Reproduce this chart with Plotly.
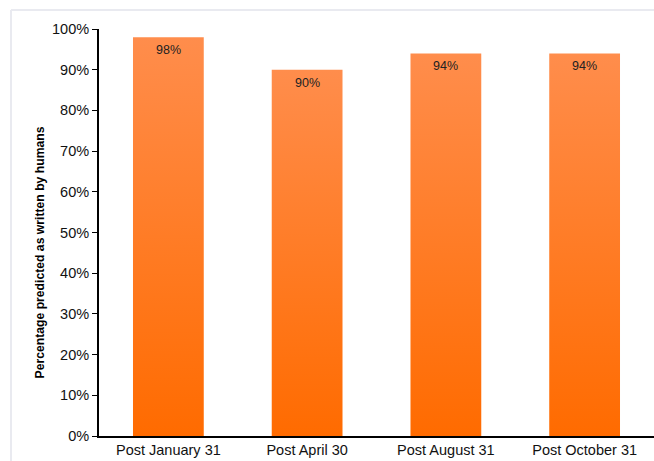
import plotly.graph_objects as go

categories = ["Post January 31", "Post April 30", "Post August 31", "Post October 31"]
values = [0.98, 0.90, 0.94, 0.94]
labels = ["98%", "90%", "94%", "94%"]
y_ticks = [0, 0.1, 0.2, 0.3, 0.4, 0.5, 0.6, 0.7, 0.8, 0.9, 1.0]
y_ticktext = ["0%", "10%", "20%", "30%", "40%", "50%", "60%", "70%", "80%", "90%", "100%"]

BAR_W = 0.51
TOP_C = "#FF8D4C"
BOT_C = "#FF6B00"
FONT = "Liberation Sans, Arial, sans-serif"

fig = go.Figure()
for i, (cat, v) in enumerate(zip(categories, values)):
    x0, x1 = i - BAR_W / 2, i + BAR_W / 2
    fig.add_trace(go.Scatter(
        x=[x0, x1, x1, x0, x0], y=[0, 0, v, v, 0],
        mode="lines", line=dict(width=0), fill="toself",
        fillgradient=dict(type="vertical", colorscale=[[0, BOT_C], [1, TOP_C]]),
        hoverinfo="skip", showlegend=False, name=cat,
    ))
    fig.add_annotation(x=i, y=v, text=labels[i], showarrow=False, yanchor="top",
                       yshift=-4, font=dict(size=12.5, color="#222", family=FONT))

fig.add_annotation(xref="paper", yref="paper", x=-0.107, y=0.45,
                   text="<b>Percentage predicted as written by humans</b>",
                   textangle=-90, showarrow=False, xanchor="center", yanchor="middle",
                   font=dict(size=12.2, color="#000", family=FONT))

frame = "#E9EAF0"
fig.add_shape(type="line", xref="paper", yref="paper", x0=-0.1586, x1=1.0, y0=1.0467, y1=1.0467,
              line=dict(color=frame, width=2))
fig.add_shape(type="line", xref="paper", yref="paper", x0=-0.1586, x1=-0.1586, y0=1.0467, y1=-0.07,
              line=dict(color=frame, width=2))

fig.update_layout(
    width=654, height=461,
    margin=dict(l=99, r=0, t=29, b=25),
    paper_bgcolor="white", plot_bgcolor="white",
    font=dict(family=FONT, size=14, color="#000"),
    xaxis=dict(range=[-0.5, 3.5], tickvals=list(range(len(categories))), ticktext=categories,
               showgrid=False, zeroline=False, showline=True, linecolor="#000", linewidth=2,
               ticks="", tickfont=dict(size=14.5, color="#111")),
    yaxis=dict(range=[0, 1.0], tickvals=y_ticks, ticktext=y_ticktext,
               showgrid=False, zeroline=False, showline=True, linecolor="#000", linewidth=2,
               ticks="outside", ticklen=5, tickwidth=1, tickcolor="#000",
               tickfont=dict(size=14.5, color="#111")),
)

fig.write_html("out.html")
